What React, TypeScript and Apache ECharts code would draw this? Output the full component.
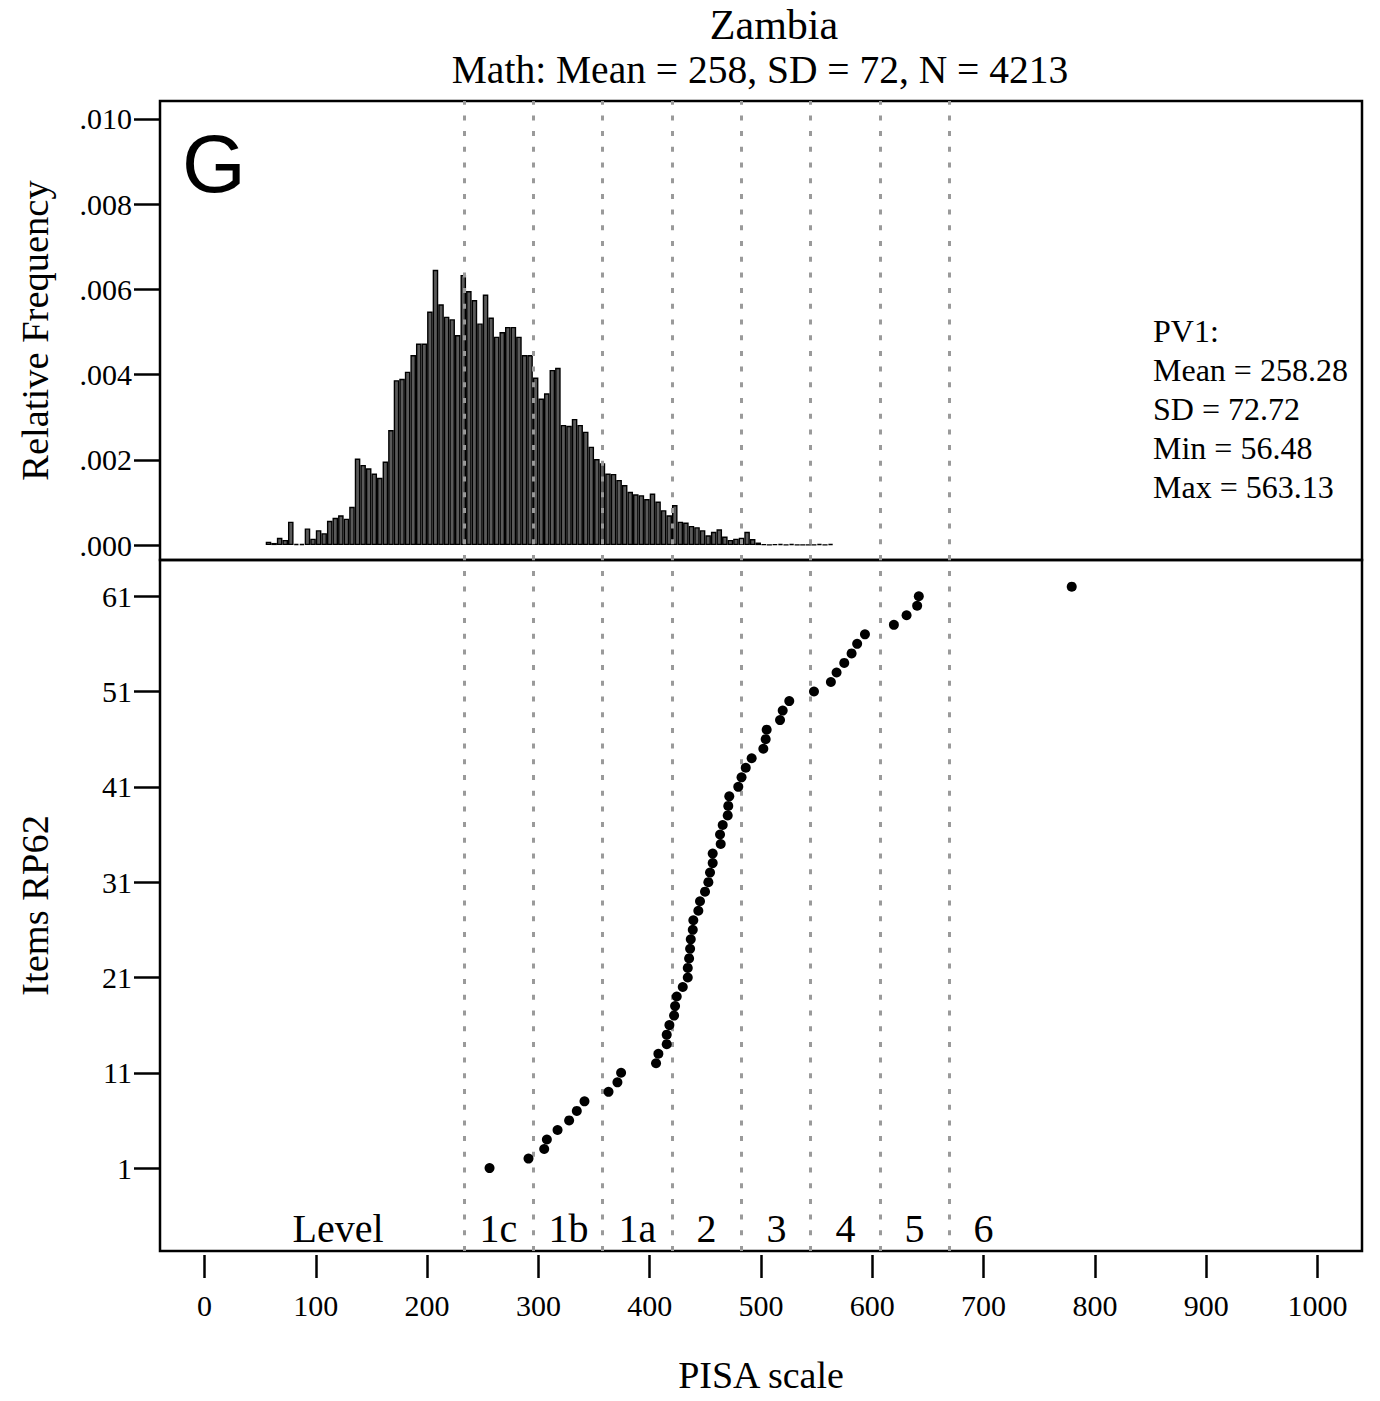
import React, { useEffect, useRef } from "react";
import * as echarts from "echarts";

// ---- Data ----
const titleText = "Zambia";
const subtitleText = "Math: Mean = 258, SD = 72, N = 4213";
const statsLines = ["PV1:", "Mean = 258.28", "SD = 72.72", "Min = 56.48", "Max = 563.13"];

// histogram: bins of width 5 starting at 55
const binStart = 55;
const binWidth = 5;
const relFreq = [
  0.00008, 0.00005, 0.00017, 0.00012, 0.00055, 0.00003, 0.00003, 0.00039, 0.00015, 0.00035,
  0.00028, 0.00057, 0.00064, 0.0007, 0.00062, 0.0009, 0.00203, 0.00188, 0.0018, 0.00168,
  0.00158, 0.00196, 0.0027, 0.00387, 0.0039, 0.00407, 0.00446, 0.00473, 0.00473, 0.00548,
  0.00646, 0.00565, 0.00536, 0.0053, 0.00493, 0.00634, 0.00596, 0.00575, 0.0052, 0.00588,
  0.00534, 0.00489, 0.005, 0.00512, 0.00512, 0.00489, 0.00446, 0.00446, 0.00393, 0.00344,
  0.00356, 0.00411, 0.00416, 0.00282, 0.0028, 0.00296, 0.00282, 0.00266, 0.00231, 0.00202,
  0.00192, 0.00168, 0.00167, 0.00153, 0.00141, 0.00125, 0.00119, 0.00117, 0.00108, 0.00121,
  0.00102, 0.00082, 0.0007, 0.00094, 0.00055, 0.00053, 0.00045, 0.00042, 0.00035, 0.00023,
  0.00031, 0.00037, 0.0002, 0.00012, 0.00015, 0.00017, 0.00031, 0.00014, 0.00006, 0.00002,
  0.00001, 0.00002, 0.00003, 0.00001, 0.00003, 0.00001, 0.00001, 0.00001, 0.00001, 0.00003,
  0.00001, 0.00003,
];

// item RP62 locations (item rank = index + 1)
const itemScores = [
  256.1, 291.1, 305.2, 307.6, 317.2, 327.6, 334.5, 341.4, 363.0, 371.0,
  374.3, 405.7, 407.8, 415.3, 415.3, 417.7, 421.9, 422.8, 424.3, 429.7,
  434.2, 434.2, 435.4, 436.3, 436.9, 438.7, 439.2, 443.7, 445.2, 449.7,
  452.7, 454.2, 456.6, 456.6, 463.8, 463.2, 465.6, 470.1, 470.6, 471.5,
  479.6, 482.5, 486.3, 491.6, 502.1, 504.2, 505.1, 517.1, 519.5, 525.4,
  547.6, 562.8, 567.9, 574.8, 581.4, 586.4, 593.4, 619.4, 630.8, 640.3,
  641.8, 779.2,
];

// PISA math proficiency level cut points
const levelCuts = [233.17, 295.47, 357.77, 420.07, 482.38, 544.68, 606.99, 669.3];
const levelNames = ["Level", "1c", "1b", "1a", "2", "3", "4", "5", "6"];
const levelLabelX = [120, 264, 327, 389, 451, 514, 576, 638, 700];
const levelLabelY = -5.3;

const xTicks = [0, 100, 200, 300, 400, 500, 600, 700, 800, 900, 1000];
const freqTicks = [0, 0.002, 0.004, 0.006, 0.008, 0.01];
const itemTicks = [1, 11, 21, 31, 41, 51, 61];

const SERIF = "Liberation Serif";

export default function App() {
  const ref = useRef<HTMLDivElement>(null);

  useEffect(() => {
    if (!ref.current) return;
    const chart = echarts.init(ref.current, undefined, { renderer: "svg" });

    const histData = relFreq.map((v, i) => [binStart + binWidth * (i + 0.5), v]);
    const itemData = itemScores.map((s, i) => [s, i + 1]);
    const levelData = levelNames.map((n, i) => ({ name: n, value: [levelLabelX[i], levelLabelY] }));

    const cutLine = {
      silent: true,
      symbol: ["none", "none"],
      label: { show: false },
      lineStyle: { color: "#9a9a9a", type: [5, 10.7], width: 3, opacity: 1 },
      data: levelCuts.map((v) => ({ xAxis: v })),
    };

    const axisTxt = { color: "#000", fontFamily: SERIF, fontSize: 30 };
    const nameTxt = { color: "#000", fontFamily: SERIF, fontSize: 38.5 };
    const tickStyle = { color: "#000", width: 2.5 };

    const gridBase = {
      left: 160,
      width: 1202,
      show: true,
      borderColor: "#000",
      borderWidth: 2.5,
      containLabel: false,
      outerBoundsMode: "none",
    };

    const option: any = {
      animation: false,
      backgroundColor: "#fff",
      title: [
        {
          text: titleText,
          left: 774,
          top: 4,
          textAlign: "center",
          padding: 0,
          textStyle: { color: "#000", fontFamily: SERIF, fontSize: 42, fontWeight: "normal" },
        },
        {
          text: subtitleText,
          left: 760,
          top: 50,
          textAlign: "center",
          padding: 0,
          textStyle: { color: "#000", fontFamily: SERIF, fontSize: 39.5, fontWeight: "normal" },
        },
      ],
      grid: [
        { ...gridBase, top: 101, height: 459 },
        { ...gridBase, top: 560, height: 691 },
      ],
      xAxis: [
        {
          type: "value",
          gridIndex: 0,
          min: -40,
          max: 1040,
          show: false,
          axisLine: { onZero: false },
          splitLine: { show: false },
        },
        {
          type: "value",
          gridIndex: 1,
          min: -40,
          max: 1040,
          position: "bottom",
          offset: 4,
          axisLine: { show: false, onZero: false },
          axisTick: { show: true, inside: false, length: 23, lineStyle: tickStyle, customValues: xTicks },
          axisLabel: { ...axisTxt, margin: 35, customValues: xTicks, formatter: (v: number) => String(v) },
          splitLine: { show: false },
          name: "PISA scale",
          nameLocation: "middle",
          nameGap: 104,
          nameTextStyle: { ...nameTxt, fontSize: 38, lineHeight: 32 },
        },
      ],
      yAxis: [
        {
          type: "value",
          gridIndex: 0,
          min: -0.00035,
          max: 0.01042,
          position: "left",
          axisLine: { show: false, onZero: false },
          axisTick: { show: true, inside: false, length: 26, lineStyle: tickStyle, customValues: freqTicks },
          axisLabel: {
            ...axisTxt,
            margin: 28,
            customValues: freqTicks,
            formatter: (v: number) => v.toFixed(3).replace(/^0/, ""),
          },
          splitLine: { show: false },
          name: "Relative Frequency",
          nameLocation: "middle",
          nameGap: 106,
          nameRotate: 90,
          nameTextStyle: nameTxt,
        },
        {
          type: "value",
          gridIndex: 1,
          min: -7.7,
          max: 64.8,
          position: "left",
          axisLine: { show: false, onZero: false },
          axisTick: { show: true, inside: false, length: 26, lineStyle: tickStyle, customValues: itemTicks },
          axisLabel: { ...axisTxt, margin: 28, customValues: itemTicks, formatter: (v: number) => String(v) },
          splitLine: { show: false },
          name: "Items RP62",
          nameLocation: "middle",
          nameGap: 106,
          nameRotate: 90,
          nameTextStyle: nameTxt,
        },
      ],
      series: [
        {
          type: "bar",
          name: "Relative Frequency",
          xAxisIndex: 0,
          yAxisIndex: 0,
          data: histData,
          barWidth: 5.57,
          itemStyle: { color: "#5a5a5a", borderColor: "#000", borderWidth: 1.4 },
          markLine: cutLine,
          z: 2,
        },
        {
          type: "scatter",
          name: "Levels",
          xAxisIndex: 1,
          yAxisIndex: 1,
          data: levelData,
          symbolSize: 1,
          itemStyle: { color: "rgba(0,0,0,0)", opacity: 1 },
          label: {
            show: true,
            position: "inside",
            formatter: "{b}",
            color: "#000",
            fontFamily: SERIF,
            fontSize: 40,
            opacity: 1,
          },
          markLine: cutLine,
          z: 1,
        },
        {
          type: "scatter",
          name: "Items RP62",
          xAxisIndex: 1,
          yAxisIndex: 1,
          data: itemData,
          symbolSize: 10,
          itemStyle: { color: "#000", opacity: 1 },
          z: 5,
        },
      ],
      graphic: [
        {
          type: "text",
          x: 214,
          y: 163,
          style: {
            text: "G",
            font: '82px "Liberation Sans"',
            fill: "#000",
            align: "center",
            verticalAlign: "middle",
          },
        },
        {
          type: "text",
          x: 1153,
          y: 311,
          style: {
            text: statsLines.join("\n"),
            font: `32px "${SERIF}"`,
            lineHeight: 39,
            fill: "#000",
            align: "left",
            verticalAlign: "top",
          },
        },
      ],
    };

    chart.setOption(option);
    return () => chart.dispose();
  }, []);

  return (
    <div
      ref={ref}
      style={{ position: "absolute", left: 0, top: 0, width: 1380, height: 1401, background: "#fff" }}
    />
  );
}
